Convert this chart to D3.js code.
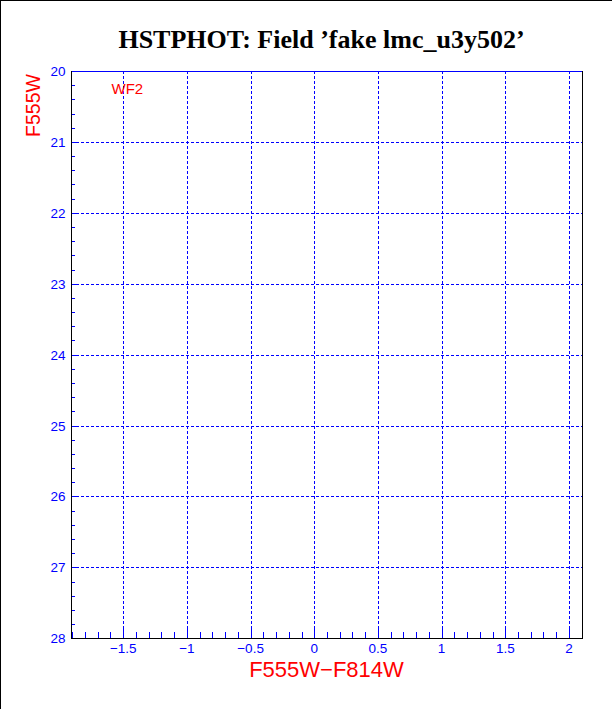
<!DOCTYPE html>
<html><head><meta charset="utf-8">
<script src="https://cdn.jsdelivr.net/npm/d3@7"></script>
<style>
html,body{margin:0;padding:0;background:#fff;}
svg{display:block;}
</style></head>
<body>
<script>
// ---- data ----
const title = "HSTPHOT: Field \u2019fake lmc_u3y502\u2019";
const xLabel = "F555W\u2212F814W";
const yLabel = "F555W";
const panelLabel = "WF2";
const xDomain = [-1.91, 2.1];
const yDomain = [20, 28];
const xTicks = [-1.5, -1, -0.5, 0, 0.5, 1, 1.5, 2];
const xTickLabels = ["\u22121.5", "\u22121", "\u22120.5", "0", "0.5", "1", "1.5", "2"];
const yTicks = [20, 21, 22, 23, 24, 25, 26, 27, 28];
const yTickLabels = ["20", "21", "22", "23", "24", "25", "26", "27", "28"];
const colorMag = [];   // F555W-F814W of stars (none in this field)
const magV = [];       // F555W of stars

const W = 612, H = 709;
const L = 71, R = 581.7, T = 71, B = 638.3;

const svg = d3.select("body").append("svg").attr("width", W).attr("height", H);
svg.append("rect").attr("width", W).attr("height", H).attr("fill", "#fff");
// outer frame (left & top)
svg.append("path").attr("d", `M0.5,${H} V0.5 H${W}`).attr("fill", "none")
  .attr("stroke", "#000").attr("stroke-width", 1).attr("shape-rendering", "crispEdges");

const x = d3.scaleLinear().domain(xDomain).range([L, R]);
const y = d3.scaleLinear().domain(yDomain).range([T, B]);

const g = svg.append("g").attr("shape-rendering", "crispEdges");

// grid lines
g.selectAll(".vg").data(xTicks).join("line")
  .attr("x1", d => Math.round(x(d)) + 0.5).attr("x2", d => Math.round(x(d)) + 0.5)
  .attr("y1", T).attr("y2", B)
  .attr("stroke", "#0000ff").attr("stroke-dasharray", "3,2");
g.selectAll(".hg").data(yTicks.slice(1, -1)).join("line")
  .attr("y1", d => Math.round(y(d)) + 0.5).attr("y2", d => Math.round(y(d)) + 0.5)
  .attr("x1", L).attr("x2", R)
  .attr("stroke", "#0000ff").attr("stroke-dasharray", "3,2");

// minor ticks x (every 0.1) on bottom axis
const xMinor = d3.range(-19, 21).map(i => i / 10).filter(v => v > xDomain[0] && v < xDomain[1]);
g.selectAll(".xm").data(xMinor).join("line")
  .attr("x1", d => Math.round(x(d)) + 0.5).attr("x2", d => Math.round(x(d)) + 0.5)
  .attr("y1", B).attr("y2", d => B - (xTicks.some(t => Math.abs(t - d) < 1e-6) ? 9 : 6))
  .attr("stroke", "#0000ff").attr("stroke-width", 1);

// minor ticks y (every 0.2) on left axis
const yMinor = d3.range(100, 141).map(i => i / 5).filter(v => v > yDomain[0] && v < yDomain[1]);
g.selectAll(".ym").data(yMinor).join("line")
  .attr("y1", d => Math.round(y(d)) + 0.5).attr("y2", d => Math.round(y(d)) + 0.5)
  .attr("x1", L).attr("x2", d => L + (Number.isInteger(d) ? 6 : 4))
  .attr("stroke", "#0000ff").attr("stroke-width", 1);

// top border blue, other axes black
g.append("line").attr("x1", L).attr("x2", R + 0.5).attr("y1", Math.round(T) + 0.5).attr("y2", Math.round(T) + 0.5)
  .attr("stroke", "#0000ff");
g.append("path")
  .attr("d", `M${Math.round(L) + 0.5},${Math.round(T)} V${Math.round(B) + 0.5} H${Math.round(R) + 0.5} V${Math.round(T)}`)
  .attr("fill", "none").attr("stroke", "#000");

// points (none)
svg.append("g").selectAll("circle").data(colorMag.map((c, i) => [c, magV[i]])).join("circle")
  .attr("cx", d => x(d[0])).attr("cy", d => y(d[1])).attr("r", 1).attr("fill", "#000");

// tick labels
const font = "'Liberation Sans', Arial, Helvetica, sans-serif";
svg.selectAll(".xl").data(xTicks).join("text")
  .attr("x", d => x(d)).attr("y", 652.5).attr("text-anchor", "middle")
  .attr("font-family", font).attr("font-size", 13.5).attr("fill", "#0000ff")
  .text((d, i) => xTickLabels[i]);
svg.selectAll(".yl").data(yTicks).join("text")
  .attr("x", 65.5).attr("y", d => y(d) + 5).attr("text-anchor", "end")
  .attr("font-family", font).attr("font-size", 13.5).attr("fill", "#0000ff")
  .text((d, i) => yTickLabels[i]);

// axis titles
svg.append("text").attr("x", 326.5).attr("y", 677).attr("text-anchor", "middle")
  .attr("font-family", font).attr("font-size", 22).attr("fill", "#ff0000").text(xLabel);
svg.append("text").attr("transform", "translate(40,105.5) rotate(-90)").attr("text-anchor", "middle")
  .attr("font-family", font).attr("font-size", 19.5).attr("fill", "#ff0000").text(yLabel);
svg.append("text").attr("x", 111.5).attr("y", 94).attr("font-family", font).attr("font-size", 15)
  .attr("fill", "#ff0000").text(panelLabel);

// title
svg.append("text").attr("x", 321.5).attr("y", 48).attr("text-anchor", "middle")
  .attr("font-family", "'Liberation Serif', 'Times New Roman', serif").attr("font-weight", "bold")
  .attr("font-size", 26).attr("fill", "#000").text(title);
</script>
</body></html>
